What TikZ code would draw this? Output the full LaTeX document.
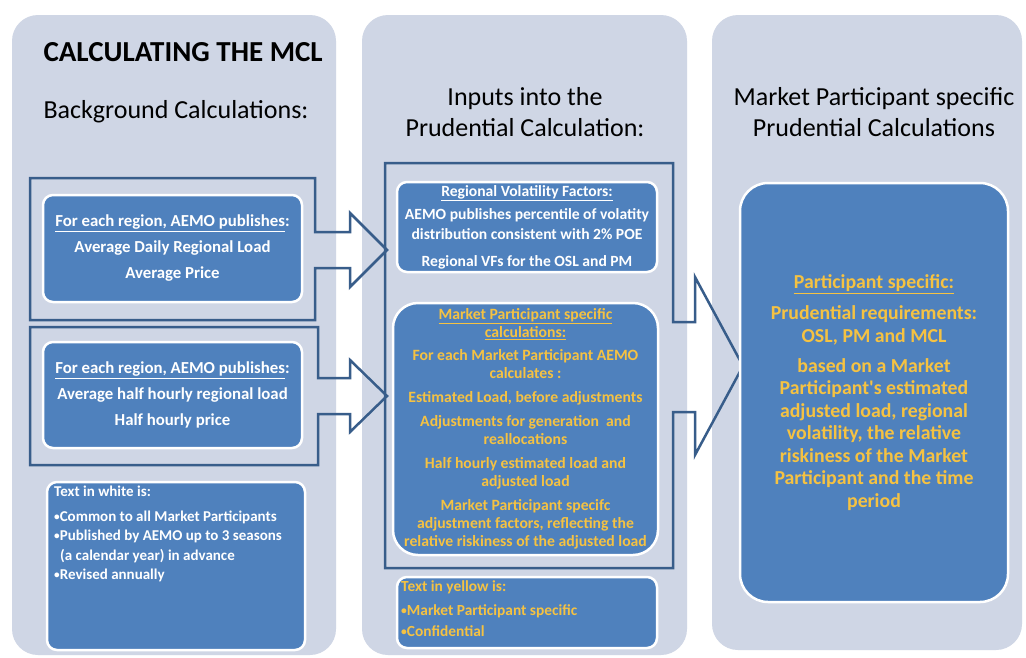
\documentclass[tikz,border=0pt]{standalone}
\usepackage{fontspec}
\setmainfont{Carlito}

\definecolor{colbg}{RGB}{207,214,229}
\definecolor{boxblue}{RGB}{79,129,189}
\definecolor{edgeblue}{RGB}{56,93,138}
\definecolor{ylw}{RGB}{245,194,66}

\newcommand{\bul}{\raisebox{0.12ex}{\scalebox{0.75}{\textbullet}}}

\begin{document}
\begin{tikzpicture}[
  x=1pt, y=-1pt,
  col/.style={fill=colbg, rounded corners=26pt},
  ibox/.style={draw=white, line width=2.5pt, fill=boxblue, rounded corners=10pt, inner sep=2pt},
  wtxt/.style={text=white, font=\fontsize{16.8}{19}\selectfont\bfseries, align=center},
  ytxt/.style={text=ylw, font=\fontsize{15.7}{18}\selectfont\bfseries, align=center},
  note/.style={anchor=north west, inner sep=0pt, align=left},
  head/.style={font=\fontsize{26}{31}\selectfont, align=center},
  blockarr/.style={draw=edgeblue, line width=2.5pt, line join=miter}
]
\fill[white] (0,0) rectangle (1026,657);
\useasboundingbox (0,0) rectangle (1026,657);

% three columns
\fill[col] (12,15) rectangle (336,655);
\fill[col] (362,15) rectangle (687,655);
\fill[col] (712,15) rectangle (1022,650);

\node[head, font=\fontsize{29}{34}\selectfont\bfseries, anchor=west] (mcl) at (40,52) {CALCULATING THE MCL};
\node[head, anchor=west] (bgcalc) at (40,112) {Background Calculations:};
\node[head] (inputs) at (525,112) {Inputs into the\\Prudential Calculation:};
\node[head] (mpcalc) at (874,112) {Market Participant specific\\Prudential Calculations};

% block arrows
\draw[blockarr] (30,178) -- (315,178) -- (315,232) -- (350,232) -- (350,213) -- (387,250)
  -- (350,287) -- (350,268) -- (315,268) -- (315,320) -- (30,320) -- cycle;
\draw[blockarr] (30,327) -- (318,327) -- (318,378) -- (350,378) -- (350,360) -- (387,396)
  -- (350,432) -- (350,414) -- (318,414) -- (318,465) -- (30,465) -- cycle;
\draw[blockarr] (385,163) -- (673,163) -- (673,322) -- (695,322) -- (695,277) -- (743,366)
  -- (695,455) -- (695,412) -- (673,412) -- (673,568) -- (385,568) -- cycle;

% background calculations
\node[ibox, wtxt, minimum width=259, minimum height=107] (daily) at (172.5,248.5)
  {\underline{For each region, AEMO publishes}:\\[7pt] Average Daily Regional Load\\[7pt] Average Price};
\node[ibox, wtxt, minimum width=259, minimum height=106] (halfhr) at (172.5,395)
  {\underline{For each region, AEMO publishes}:\\[7pt] Average half hourly regional load\\[7pt] Half hourly price};
\node[ibox, minimum width=258, minimum height=168] (wnote) at (176,566) {};
\node[note, text=white, font=\fontsize{15}{19.5}\selectfont\bfseries] (wnotetxt) at (54,486)
  {Text in white is:\\[5pt]\bul Common to all Market Participants\\\bul Published by AEMO up to 3 seasons\\\hspace*{6pt}(a calendar year) in advance\\\bul Revised annually};

% inputs
\node[ibox, wtxt, font=\fontsize{15.6}{19}\selectfont\bfseries, minimum width=260, minimum height=90] (vf) at (527,227)
  {\underline{Regional Volatility Factors:}\\[4pt] AEMO publishes percentile of volatity\\[1pt] distribution consistent with 2\% POE\\[8pt] Regional VFs for the OSL and PM};
\node[ibox, ytxt, rounded corners=25pt, minimum width=265, minimum height=252] (mpc) at (525.5,429)
  {\underline{Market Participant specific}\\ \underline{calculations:}\\[5pt]
   For each Market Participant AEMO\\ calculates :\\[6pt]
   Estimated Load, before adjustments\\[6pt]
   Adjustments for generation\ \ and\\ reallocations\\[6pt]
   Half hourly estimated load and\\ adjusted load\\[6pt]
   Market Participant specifc\\ adjustment factors, reflecting the\\ relative riskiness of the adjusted load};
\node[ibox, minimum width=260, minimum height=71] (ynote) at (527,612.5) {};
\node[note, text=ylw, font=\fontsize{15.4}{21}\selectfont\bfseries] (ynotetxt) at (401,580)
  {Text in yellow is:\\[3pt]\bul Market Participant specific\\\bul Confidential};

% participant specific
\node[ibox, ytxt, font=\fontsize{19.8}{22.5}\selectfont\bfseries, rounded corners=28pt, minimum width=268, minimum height=419] (part) at (874,392.5)
  {\underline{Participant specific:}\\[9pt] Prudential requirements:\\ OSL, PM and MCL\\[7.5pt]
   based on a Market\\ Participant\textquotesingle s estimated\\ adjusted load, regional\\ volatility, the relative\\
   riskiness of the Market\\ Participant and the time\\ period};
\end{tikzpicture}
\end{document}
